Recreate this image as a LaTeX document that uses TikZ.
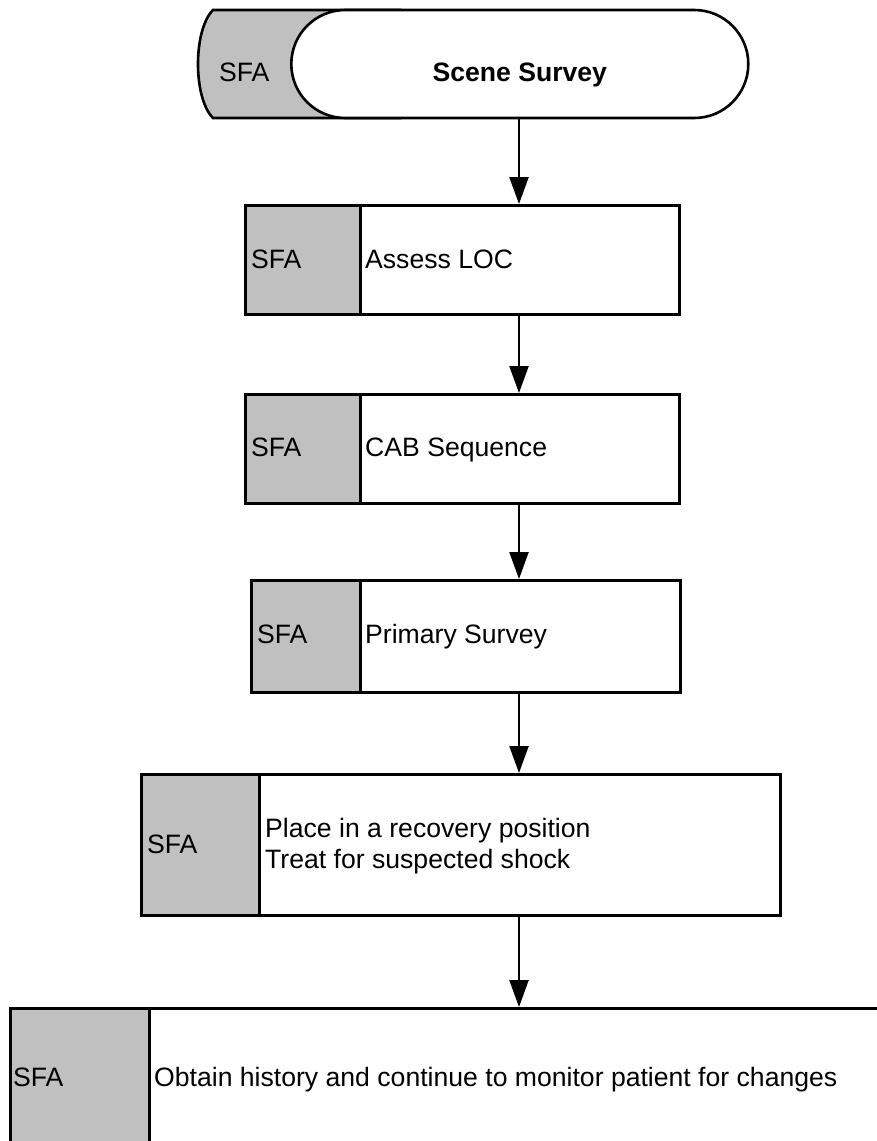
\documentclass[tikz,border=0pt]{standalone}
\usepackage{fontspec}
\setmainfont{Liberation Sans}
\usetikzlibrary{arrows.meta,shapes.misc}
\definecolor{tagfill}{RGB}{192,192,192}
\begin{document}
\begin{tikzpicture}[x=1pt,y=-1pt,
  outline/.style={draw=black, line width=2.6pt},
  panel/.style={outline, fill=white, rectangle, inner sep=0pt, anchor=north west},
  tag/.style={outline, fill=tagfill, rectangle, inner sep=0pt, anchor=north west},
  txt/.style={inner sep=0pt, anchor=base west, font=\fontsize{26.6}{31}\selectfont, align=left},
  flow/.style={line width=2.4pt, -{Triangle[width=19pt,length=27pt]}},
]
\clip (0,0) rectangle (877,1141);
\coordinate (axis) at (519,0);

% start terminal with its grey tab
\path[outline, fill=tagfill] (400,10) -- (213,10)
  .. controls (193,30) and (193,98) .. (213,118) -- (400,118) -- cycle;
\node[rounded rectangle, outline, fill=white, inner sep=0pt,
  minimum width=457pt, minimum height=108pt, anchor=west] (start) at (290,64) {};
\node[txt] (t0) at (219,81) {SFA};
\node[txt, anchor=base, font=\fontsize{26.6}{31}\selectfont\bfseries] (s0) at (start.center |- 0,81) {Scene Survey};

% step 1
\node[panel, minimum width=434pt, minimum height=109pt] (b1) at (244,204) {};
\node[tag, minimum width=115pt, minimum height=109pt] (g1) at (244,204) {};
\node[txt] (t1) at (251,268) {SFA};
\node[txt] (s1) at (365,268) {Assess LOC};

% step 2
\node[panel, minimum width=434pt, minimum height=109pt] (b2) at (244,393) {};
\node[tag, minimum width=115pt, minimum height=109pt] (g2) at (244,393) {};
\node[txt] (t2) at (251,456) {SFA};
\node[txt] (s2) at (365,456) {CAB Sequence};

% step 3
\node[panel, minimum width=429pt, minimum height=112pt] (b3) at (250,579) {};
\node[tag, minimum width=109pt, minimum height=112pt] (g3) at (250,579) {};
\node[txt] (t3) at (257,643) {SFA};
\node[txt] (s3) at (365,643) {Primary Survey};

% step 4 (two-line text, anchored on the baseline of its last line)
\node[panel, minimum width=639pt, minimum height=141pt] (b4) at (140,773) {};
\node[tag, minimum width=118pt, minimum height=141pt] (g4) at (140,773) {};
\node[txt] (t4) at (147,853) {SFA};
\node[txt] (s4) at (265,868) {Place in a recovery position\\Treat for suspected shock};

% step 5
\node[panel, minimum width=896pt, minimum height=143pt] (b5) at (9,1007) {};
\node[tag, minimum width=139pt, minimum height=143pt] (g5) at (9,1007) {};
\node[txt] (t5) at (13,1086) {SFA};
\node[txt] (s5) at (154,1086) {Obtain history and continue to monitor patient for changes};

% connectors
\draw[flow] (start.south -| axis) -- (b1.north -| axis);
\draw[flow] (b1.south -| axis) -- (b2.north -| axis);
\draw[flow] (b2.south -| axis) -- (b3.north -| axis);
\draw[flow] (b3.south -| axis) -- (b4.north -| axis);
\draw[flow] (b4.south -| axis) -- (b5.north -| axis);
\end{tikzpicture}
\end{document}
